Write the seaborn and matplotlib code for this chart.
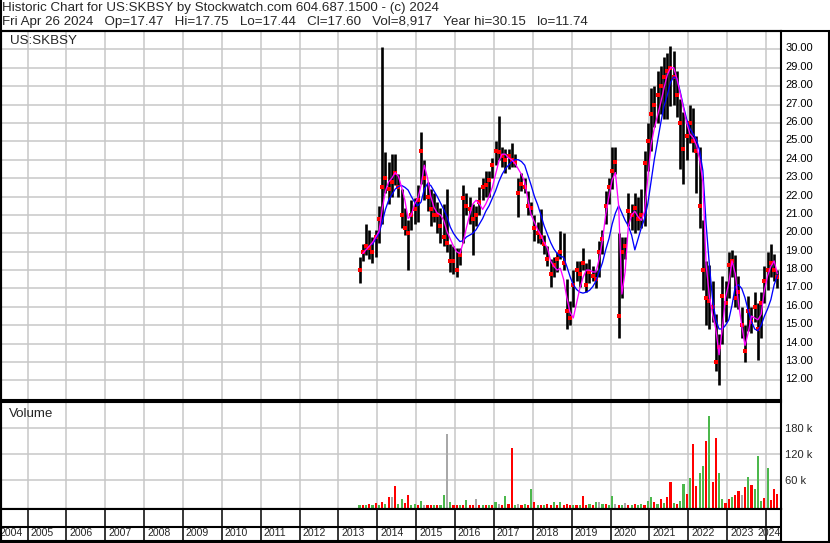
import numpy as np
import pandas as pd
import matplotlib
matplotlib.use("Agg")
import matplotlib.pyplot as plt
import matplotlib.transforms as mtransforms
from matplotlib.lines import Line2D
import seaborn as sns

# ---------------- data (monthly) ----------------
months = pd.period_range("2013-07", "2024-04", freq="M")

high = [18.7, 19.4, 20.5, 20.2, 19.8, 20.2,
        21.5, 30.1, 24.4, 23.9, 24.3, 24.3, 23.2, 22.4, 21.4, 20.7, 21.8, 21.9,
        22.6, 25.5, 24.0, 22.8, 22.4, 22.2, 21.7, 21.4, 21.6, 22.4, 19.4, 19.3,
        19.2, 19.2, 22.6, 22.2, 22.0, 21.6, 21.5, 22.5, 23.0, 23.4, 23.4, 24.1,
        25.0, 26.4, 24.7, 24.6, 24.6, 24.9, 24.3, 23.0, 23.3, 23.0, 22.3, 21.7,
        21.0, 20.6, 21.3, 19.9, 19.3, 18.6, 18.7, 19.0, 20.1, 20.0, 17.5, 16.3,
        18.0, 18.5, 18.5, 19.2, 18.4, 18.6, 18.2, 18.0, 19.6, 20.2, 22.3, 23.0,
        24.7, 24.7, 20.0, 19.8, 19.8, 22.2, 21.6, 22.2, 22.0, 22.4, 24.5, 26.0,
        27.9, 28.0, 28.8, 29.1, 29.6, 29.8, 30.2, 29.9, 28.8, 27.3, 26.6, 26.0,
        27.0, 26.8, 25.3, 24.7, 20.7, 18.5, 18.3, 17.4, 15.6, 14.5, 17.7, 17.4,
        19.0, 19.1, 18.8, 17.7, 16.0, 15.0, 16.6, 16.0, 16.8, 16.2, 16.8, 18.2,
        19.0, 19.4, 18.9, 18.0]

low = [17.3, 18.5, 18.8, 18.6, 18.4, 18.7,
       19.5, 20.5, 22.2, 21.6, 22.0, 22.6, 22.0, 20.3, 19.9, 18.0, 20.2, 20.5,
       20.6, 22.7, 21.8, 21.2, 20.4, 20.6, 20.0, 19.5, 19.3, 19.0, 17.9, 17.8,
       17.6, 18.3, 19.5, 21.0, 20.5, 18.8, 20.4, 21.0, 21.8, 22.0, 22.0, 23.0,
       23.7, 24.0, 23.6, 23.3, 23.5, 23.6, 23.6, 20.9, 22.3, 22.2, 21.0, 21.0,
       19.6, 19.5, 19.4, 18.9, 18.2, 17.1, 17.6, 17.9, 18.6, 18.0, 14.8, 15.0,
       16.0, 17.4, 17.1, 18.0, 16.8, 17.3, 17.4, 17.0, 17.6, 18.9, 20.5, 21.6,
       22.4, 23.2, 14.3, 16.5, 18.6, 20.4, 20.2, 20.0, 20.2, 20.3, 20.4, 23.4,
       24.5, 25.8, 26.0, 26.5, 26.2, 26.2, 26.9, 27.0, 26.3, 23.5, 22.7, 24.0,
       24.9, 24.4, 22.2, 20.3, 16.9, 15.0, 14.8, 15.2, 12.5, 11.74, 14.0, 15.2,
       16.5, 17.6, 16.0, 15.9, 14.3, 13.0, 14.7, 14.6, 15.2, 13.1, 14.3, 16.2,
       16.9, 17.6, 17.4, 17.0]

close = [18.0, 19.0, 19.3, 19.2, 19.0, 19.8,
         20.8, 22.5, 23.0, 22.4, 22.8, 23.3, 22.5, 21.0, 20.3, 20.0, 21.0, 21.3,
         21.8, 24.5, 23.0, 22.0, 21.3, 21.0, 21.0, 20.4, 19.8, 19.5, 18.5, 18.5,
         18.0, 18.8, 21.9, 21.5, 21.3, 20.8, 21.0, 21.7, 22.5, 22.6, 22.9, 23.7,
         24.5, 24.4, 24.2, 24.0, 24.2, 24.0, 23.9, 22.2, 22.7, 22.5, 21.5, 21.4,
         20.3, 20.0, 19.8, 19.4, 18.6, 17.8, 18.3, 18.6, 19.0, 18.4, 15.8, 15.4,
         17.2, 18.0, 17.8, 18.4, 17.2, 17.9, 17.7, 17.5, 19.0, 19.7, 21.5, 22.5,
         23.4, 23.9, 15.5, 19.0, 19.3, 21.2, 21.0, 21.4, 20.8, 21.0, 23.8, 25.0,
         26.5, 27.0, 27.5, 28.0, 28.5, 28.8, 29.0, 28.5, 27.5, 26.0, 24.6, 25.3,
         26.0, 25.0, 24.5, 21.5, 18.0, 16.5, 16.3, 16.0, 13.0, 13.8, 16.6, 16.2,
         18.3, 18.5, 16.5, 16.8, 15.0, 13.6, 15.8, 15.2, 16.0, 14.8, 16.2, 17.4,
         18.0, 18.4, 18.0, 17.6]

ma_fast = [np.nan, 18.9, 19.1, 19.3, 19.5, 19.8,
           20.1, 21.3, 22.3, 22.8, 23.0, 23.3, 23.1, 22.5, 21.8, 20.8, 21.0, 21.6,
           21.9, 22.6, 23.7, 23.0, 22.0, 21.4, 21.1, 21.0, 20.7, 20.1, 19.7, 19.3,
           19.0, 18.9, 19.5, 20.3, 21.0, 21.6, 21.8, 21.6, 21.3, 21.6, 22.0, 22.5,
           23.2, 23.9, 24.3, 24.3, 24.1, 24.0, 23.8, 23.5, 23.2, 22.8, 21.8, 21.0,
           20.6, 20.2, 19.9, 19.5, 19.2, 18.5, 18.2, 18.0, 18.1, 17.5, 16.5, 15.7,
           15.4, 16.2, 17.0, 17.6, 18.0, 18.0, 17.9, 17.9, 18.6, 19.6, 21.0, 22.0,
           22.9, 23.3, 21.5, 16.7, 17.9, 20.4, 21.0, 21.2, 20.9, 20.7, 21.2, 23.0,
           24.8, 25.7, 26.4, 27.1, 27.9, 28.6, 29.0, 29.0, 28.4, 27.6, 26.8, 26.0,
           25.4, 25.2, 24.8, 24.0, 22.8, 18.3, 16.6, 15.6, 14.8, 13.4, 14.8, 16.5,
           17.3, 18.5, 17.8, 16.2, 15.0, 13.9, 14.6, 15.5, 15.4, 15.3, 15.6, 16.9,
           17.7, 18.2, 18.5, 17.8]

ma_slow = [np.nan, np.nan, np.nan, np.nan, 19.4, 19.7,
           20.0, 20.6, 21.3, 21.8, 22.1, 22.4, 22.55, 22.6, 22.5, 22.35, 22.0, 21.7,
           21.5, 21.7, 22.4, 22.7, 22.6, 22.3, 22.0, 21.65, 21.3, 20.9, 20.35, 20.0,
           19.75, 19.55, 19.6, 19.8, 19.9, 20.0, 20.2, 20.5, 20.8, 21.2, 21.5, 21.9,
           22.3, 22.8, 23.2, 23.5, 23.7, 23.9, 24.0, 24.0, 23.9, 23.7, 23.15, 22.6,
           22.0, 21.55, 21.0, 20.4, 19.95, 19.5, 19.15, 18.9, 18.75, 18.7, 18.2, 17.65,
           17.2, 16.95, 16.8, 16.75, 16.8, 16.9, 17.1, 17.4, 17.9, 18.4, 19.1, 19.7,
           20.5, 21.1, 21.5, 21.1, 20.7, 20.4, 19.9, 19.1, 19.7, 20.3, 20.8, 21.6,
           22.8, 24.0, 25.0, 26.0, 26.9, 27.5, 28.2, 28.5, 28.4, 27.7, 26.9, 26.2,
           25.7, 25.4, 25.1, 24.5, 23.4, 20.5, 18.3, 16.4, 15.3, 14.8, 14.8, 15.0,
           15.3, 16.1, 17.1, 17.2, 17.0, 16.5, 15.8, 15.2, 14.8, 14.7, 15.0, 15.5,
           15.9, 16.4, 17.2, 17.7]

volume_k = [2, 2, 3, 6, 3, 7,
            4, 9, 5, 21, 21, 48, 5, 16, 7, 25, 4, 6,
            3, 12, 4, 3, 3, 2, 3, 2, 25, 167, 9, 3,
            3, 4, 3, 14, 3, 4, 16, 3, 4, 2, 4, 3,
            9, 5, 3, 23, 5, 134, 4, 5, 3, 6, 3, 41,
            11, 4, 3, 4, 5, 3, 9, 3, 11, 4, 6, 3,
            4, 3, 3, 23, 4, 5, 3, 9, 11, 5, 6, 3,
            23, 5, 4, 3, 8, 3, 4, 5, 3, 6, 4, 13,
            21, 9, 6, 18, 8, 21, 55, 7, 6, 12, 52, 28,
            65, 144, 48, 77, 92, 151, 209, 55, 158, 78, 17, 8,
            17, 21, 25, 36, 27, 44, 67, 50, 40, 117, 12, 20,
            88, 15, 40, 28]

volume_dir = ("g r g r g r "
              "g r g r n r g g r r g g "
              "r g n r r g r g g n g r "
              "r g r g r r n r g r g r "
              "g n r g r r g n r g r g "
              "r g r g r r g r g r r r "
              "g r g r r g r g n g r g "
              "g n r g n r g r g g r g "
              "g r g r g r r g r g g r "
              "g r r g g r g r r g g r "
              "r g r r n r g r g g g r "
              "g r r r").split()

year_labels = [str(y) for y in range(2004, 2025)]
price_ticks = list(range(12, 31))
volume_ticks_k = [60, 120, 180]
symbol = "US:SKBSY"
header_1 = "Historic Chart for US:SKBSY by Stockwatch.com 604.687.1500 - (c) 2024"
header_2 = ("Fri Apr 26 2024   Op=17.47   Hi=17.75   Lo=17.44   Cl=17.60   "
            "Vol=8,917   Year hi=30.15   lo=11.74")

# ---------------- styling ----------------
sns.set_style("white")
plt.rcParams["font.family"] = ["Liberation Sans", "DejaVu Sans"]

W, H = 830, 543
fig = plt.figure(figsize=(W / 100, H / 100), dpi=100)
fig.patch.set_facecolor("white")


def box(x0, y0, x1, y1):
    return [x0 / W, 1 - y1 / H, (x1 - x0) / W, (y1 - y0) / H]


def xt(x):  # pixel x -> fractional year
    return 2005 + (x - 27.5) / 38.87


T0, T1 = xt(1), xt(781)
GRID = "#c8c8c8"
RED = "#ff0000"
GREEN = "#4cb84c"
GRAY = "#a8a8a8"
dir_color = {"r": RED, "g": GREEN, "n": GRAY}

df = pd.DataFrame({
    "t": [m.year + (m.month - 0.5) / 12 for m in months],
    "high": high, "low": low, "close": close,
    "ma_fast": ma_fast, "ma_slow": ma_slow,
    "vol": np.array(volume_k) * 1000.0,
    "dir": volume_dir,
})

year_edges = np.arange(2005, 2025)

# ---------------- price panel ----------------
axp = fig.add_axes(box(1, 31, 781, 400))
axp.set_xlim(T0, T1)
axp.set_ylim(10.94, 30.995)
axp.set_xticks(year_edges)
axp.set_yticks(price_ticks)
axp.grid(True, color=GRID, lw=1.1)
axp.set_axisbelow(True)
axp.tick_params(axis="x", length=0, labelbottom=False)
axp.yaxis.tick_right()
axp.tick_params(axis="y", length=0, pad=3, labelsize=8, labelcolor="#000000")
axp.set_yticklabels([f"{v:.2f}" for v in price_ticks])
off = mtransforms.ScaledTranslation(0, 2 / 100, fig.dpi_scale_trans)
for lab in axp.get_yticklabels():
    lab.set_transform(lab.get_transform() + off)

axp.vlines(df["t"], df["low"], df["high"], color="black", lw=1.9, zorder=2)
sns.scatterplot(data=df, x="t", y="close", ax=axp, color=RED, marker="s",
                s=6, linewidth=0, zorder=3, legend=False)
sns.lineplot(data=df, x="t", y="ma_slow", ax=axp, color="#0000ff", lw=0.95,
             zorder=4, legend=False)
sns.lineplot(data=df, x="t", y="ma_fast", ax=axp, color="#ff00ff", lw=0.95,
             zorder=5, legend=False)
axp.set_xlabel("")
axp.set_ylabel("")
axp.text(9 / 780, 1 - 10 / 369, symbol, transform=axp.transAxes,
         ha="left", va="center", fontsize=9.6)

# ---------------- volume panel ----------------
axv = fig.add_axes(box(1, 402, 781, 509))
v_lo = -6200.0
axv.set_xlim(T0, T1)
axv.set_ylim(v_lo, 240700)
axv.set_xticks(year_edges)
axv.set_yticks([v * 1000 for v in volume_ticks_k])
axv.grid(True, color=GRID, lw=1.1)
axv.set_axisbelow(True)
axv.tick_params(axis="x", length=0, labelbottom=False)
axv.yaxis.tick_right()
axv.tick_params(axis="y", length=0, pad=3, labelsize=8)
axv.set_yticklabels([f"{v} k" for v in volume_ticks_k])
axv.bar(df["t"], df["vol"] - v_lo, bottom=v_lo, width=0.055,
        color=[dir_color[d] for d in df["dir"]], linewidth=0, zorder=2)
axv.text(8 / 780, 1 - 12 / 107, "Volume", transform=axv.transAxes,
         ha="left", va="center", fontsize=9.6)

# ---------------- date band ----------------
axd = fig.add_axes(box(1, 509, 781, 541))
axd.set_xlim(T0, T1)
axd.set_ylim(0, 1)
axd.set_xticks([])
axd.set_yticks([])
axd.vlines(year_edges, 0, 1, color="black", lw=1.1)
axd.axhline(14 / 32, color="black", lw=1.5)
for lab in year_labels:
    y = int(lab)
    if y == 2004:
        axd.text(T0 - 0.05, 7.5 / 32, lab, ha="left", va="center", fontsize=7.6,
                 clip_on=True)
    elif y == 2024:
        axd.text(T1 - 0.01, 7.5 / 32, lab, ha="right", va="center", fontsize=7.6,
                 clip_on=True)
    else:
        axd.text(y + 0.075, 7.5 / 32, lab, ha="left", va="center", fontsize=7.6,
                 clip_on=True)

for a in (axp, axv, axd):
    for s in a.spines.values():
        s.set_color("black")
        s.set_linewidth(1.5)

# ---------------- outer frame ----------------
def fline(x0, y0, x1, y1, lw=1.5):
    fig.add_artist(Line2D([x0 / W, x1 / W], [1 - y0 / H, 1 - y1 / H],
                          color="black", lw=lw))

fline(0, 31, 830, 31)
fline(828.5, 31, 828.5, 543)
fline(0, 541.5, 830, 541.5)
fline(0.7, 0, 0.7, 543)

fig.text(2 / W, 1 - 7.5 / H, header_1, ha="left", va="center", fontsize=9.6)
fig.text(2 / W, 1 - 22.5 / H, header_2, ha="left", va="center", fontsize=9.6)

fig.savefig("out.png", dpi=100)
